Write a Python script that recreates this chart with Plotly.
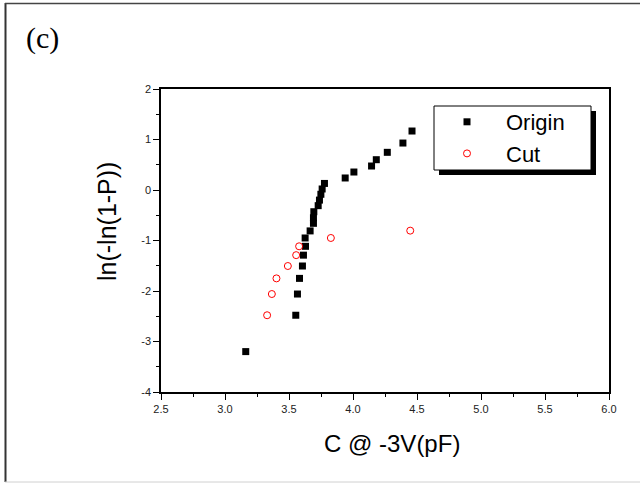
import plotly.graph_objects as go

# ---- data ----
origin_x = [3.162, 3.553, 3.566, 3.582, 3.605, 3.613, 3.629, 3.626, 3.665, 3.691,
            3.691, 3.694, 3.728, 3.738, 3.749, 3.759, 3.777, 3.939, 4.007, 4.145,
            4.182, 4.268, 4.390, 4.461]
origin_y = [-3.20, -2.48, -2.06, -1.75, -1.505, -1.29, -1.115, -0.95, -0.81, -0.66,
            -0.55, -0.43, -0.31, -0.20, -0.085, 0.02, 0.13, 0.238, 0.356, 0.475,
            0.60, 0.746, 0.93, 1.168]
cut_x = [3.329, 3.366, 3.402, 3.491, 3.556, 3.579, 3.827, 4.447]
cut_y = [-2.48, -2.06, -1.75, -1.505, -1.29, -1.115, -0.95, -0.805]

x_ticks = [2.5, 3.0, 3.5, 4.0, 4.5, 5.0, 5.5, 6.0]
y_ticks = [-4, -3, -2, -1, 0, 1, 2]

# ---- layout geometry (pixels) ----
W, H = 640, 483
ML, MR, MT, MB = 161, 31, 89, 91
PW, PH = W - ML - MR, H - MT - MB


def px(xp):
    return (xp - ML) / PW


def py(yp):
    return (H - MB - yp) / PH


FONT = "Liberation Sans, Arial, sans-serif"

fig = go.Figure()
fig.add_trace(go.Scatter(
    x=origin_x, y=origin_y, mode="markers", name="Origin",
    marker=dict(symbol="square", size=7, color="black", line=dict(width=0)),
))
fig.add_trace(go.Scatter(
    x=cut_x, y=cut_y, mode="markers", name="Cut",
    marker=dict(symbol="circle-open", size=7, color="#ff0000", line=dict(width=1, color="#ff0000")),
))

axis_common = dict(
    showgrid=False, zeroline=False, showline=True, linecolor="black", linewidth=1.5,
    mirror=True, ticks="outside", ticklen=6, tickwidth=1.2, tickcolor="black",
    tickfont=dict(family=FONT, size=11, color="#222"),
)

fig.update_layout(
    width=W, height=H,
    margin=dict(l=ML, r=MR, t=MT, b=MB),
    paper_bgcolor="white", plot_bgcolor="white",
    xaxis=dict(range=[2.5, 6.0], tickvals=x_ticks, ticktext=[f"{v:.1f}" for v in x_ticks],
               minor=dict(ticks="outside", ticklen=3, dtick=0.25, tickcolor="black", tickwidth=1),
               **axis_common),
    yaxis=dict(range=[-4, 2], tickvals=y_ticks, ticktext=[str(v) for v in y_ticks],
               minor=dict(ticks="outside", ticklen=3, dtick=0.5, tickcolor="black", tickwidth=1),
               **axis_common),
    showlegend=True,
    legend=dict(
        x=px(428), y=py(101), xanchor="left", yanchor="top",
        bgcolor="rgba(0,0,0,0)", borderwidth=0,
        font=dict(family=FONT, size=22, color="black"),
        itemwidth=68, tracegroupgap=0,
    ),
)

shapes = []
# legend shadow and box
shapes.append(dict(type="rect", xref="paper", yref="paper",
                   x0=px(439), x1=px(596), y0=py(111), y1=py(175),
                   fillcolor="black", line=dict(width=0), layer="above"))
shapes.append(dict(type="rect", xref="paper", yref="paper",
                   x0=px(434), x1=px(591), y0=py(106), y1=py(170),
                   fillcolor="white", line=dict(width=1, color="black"), layer="above"))
# outer frame
shapes.append(dict(type="line", xref="paper", yref="paper",
                   x0=px(5.5), x1=px(5.5), y0=py(3), y1=py(482),
                   line=dict(width=2, color="#333")))
shapes.append(dict(type="line", xref="paper", yref="paper",
                   x0=px(5), x1=px(640), y0=py(3.5), y1=py(3.5),
                   line=dict(width=1.5, color="#444")))
shapes.append(dict(type="line", xref="paper", yref="paper",
                   x0=px(5), x1=px(640), y0=py(482), y1=py(482),
                   line=dict(width=1, color="#d0d0d0")))
fig.update_layout(shapes=shapes)

fig.add_annotation(text="C @ -3V(pF)", xref="paper", yref="paper",
                   x=px(392), y=py(443), xanchor="center", yanchor="middle",
                   showarrow=False, font=dict(family=FONT, size=24, color="black"))
fig.add_annotation(text="ln(-ln(1-P))", xref="paper", yref="paper",
                   x=px(107), y=py(222), xanchor="center", yanchor="middle",
                   textangle=-90, showarrow=False,
                   font=dict(family=FONT, size=25, color="black"))
fig.add_annotation(text="(c)", xref="paper", yref="paper",
                   x=px(24), y=py(38), xanchor="left", yanchor="middle",
                   showarrow=False, font=dict(family="Liberation Serif, Times New Roman, serif", size=30, color="black"))

fig.write_html("out.html")
